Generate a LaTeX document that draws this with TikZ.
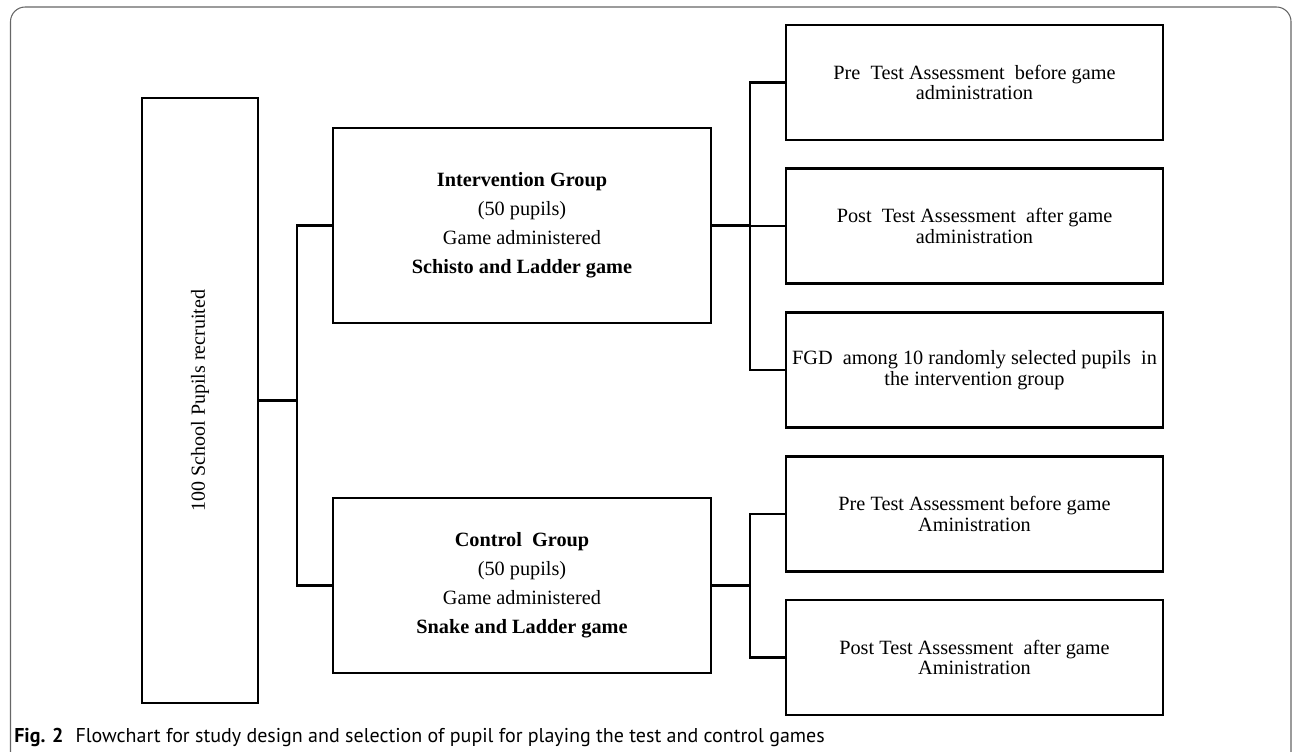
\documentclass[tikz,border=0pt]{standalone}
\usepackage{fontspec}
\setmainfont{Liberation Serif}
\newfontfamily\capfont{PT Sans}
\usetikzlibrary{positioning}

\begin{document}
\begin{tikzpicture}[x=0.75pt,y=-0.75pt,
		box/.style={draw,line width=1.7pt,align=center,inner sep=0pt},
		groupbox/.style={box,minimum width=283.5pt,font=\fontsize{15.2}{21.75}\selectfont},
		stepbox/.style={box,minimum width=282.75pt,minimum height=86.25pt,font=\fontsize{15.2}{15.5}\selectfont},
		link/.style={line width=1.7pt}]
		\useasboundingbox (0,0) rectangle (1293,752);

		% frame of the figure
		\draw[black!60,line width=0.8pt,rounded corners=11pt] (10.5,752) -- (10.5,7) -- (1291,7) -- (1291,752);

		\node[box,minimum width=87pt,minimum height=453.75pt,font=\fontsize{15}{16}\selectfont] (pupils) at (200,400.5) {\rotatebox{90}{100 School Pupils recruited}};

		\node[groupbox,minimum height=146.25pt] (inter) at (522,225.5) {\textbf{Intervention Group}\\(50 pupils)\\Game administered\\\textbf{Schisto and Ladder game}};
		\node[groupbox,minimum height=131.25pt] (ctrl) at (522,585.5) {\textbf{Control\ \ Group}\\(50 pupils)\\Game administered\\\textbf{Snake and Ladder game}};

		\node[stepbox] (ipre) at (974.5,82.5) {Pre\ \ Test Assessment\ \ before game\\administration};
		\node[stepbox] (ipost) at (974.5,226) {Post\ \ Test Assessment\ \ after game\\administration};
		\node[stepbox] (fgd) at (974.5,370) {FGD\ \ among 10 randomly selected pupils\ \ in\\the intervention group};
		\node[stepbox] (cpre) at (974.5,514) {Pre Test Assessment before game\\Aministration};
		\node[stepbox] (cpost) at (974.5,657.5) {Post Test Assessment\ \ after game\\Aministration};

		% left split
		\draw[link] (pupils.east) -- ++(38,0) coordinate (lsplit);
		\draw[link] (lsplit) |- (inter.west);
		\draw[link] (lsplit) |- (ctrl.west);

		% intervention split
		\draw[link] (inter.east) -- ++(38,0) coordinate (isplit);
		\draw[link] (isplit) |- (ipre.west);
		\draw[link] (isplit) |- (ipost.west);
		\draw[link] (isplit) |- (fgd.west);

		% control split
		\draw[link] (ctrl.east) -- ++(38,0) coordinate (csplit);
		\draw[link] (csplit) |- (cpre.west);
		\draw[link] (csplit) |- (cpost.west);

		\node[anchor=base west,inner sep=0pt,font=\capfont\fontsize{15}{16}\selectfont] (caption) at (14,742) {\textbf{Fig. 2}\hspace{9pt}Flowchart for study design and selection of pupil for playing the test and control games};
	\end{tikzpicture}
\end{document}
